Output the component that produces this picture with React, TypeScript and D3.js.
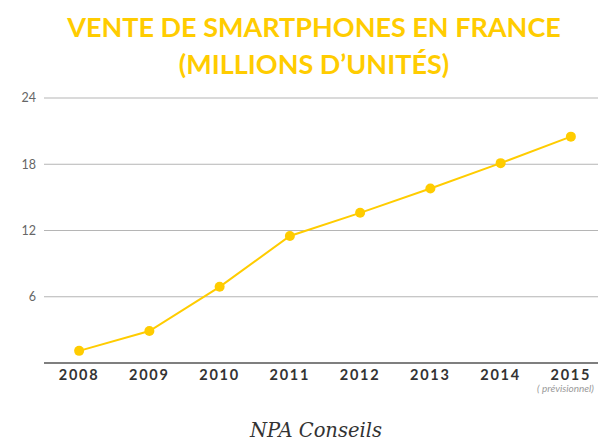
import React from 'react';
import * as d3 from 'd3';

const years = ['2008', '2009', '2010', '2011', '2012', '2013', '2014', '2015'];
const sales = [1.1, 2.9, 6.9, 11.5, 13.6, 15.8, 18.1, 20.5];
const yTicks = [6, 12, 18, 24];
const titleLines = ['VENTE DE SMARTPHONES EN FRANCE', '(MILLIONS D\u2019UNITÉS)'];

const width = 598;
const height = 442;
const yellow = '#ffcc00';

const App = () => {
  const x = d3.scalePoint<string>().domain(years).range([44, 606]).padding(0.5);
  const y = d3.scaleLinear().domain([0, 24]).range([363, 98]);

  const line = d3.line<number>()
    .x((d, i) => x(years[i]) as number)
    .y(d => y(d));

  return (
    <svg width={width} height={height}
      style={{ position: 'absolute', left: 0, top: 0, background: '#fff' }}>
      {titleLines.map((t, i) => (
        <text key={i} x={314} y={37 + i * 37} textAnchor="middle"
          fontFamily="'Lato', 'Noto Sans', sans-serif" fontWeight={700}
          fontSize={27} fill={yellow}>{t}</text>
      ))}

      {yTicks.map(t => (
        <g key={t}>
          <line x1={44} x2={598} y1={y(t)} y2={y(t)} stroke="#b5b5b5" strokeWidth={1} />
          <text x={36} y={y(t)} dy="0.35em" textAnchor="end"
            fontFamily="'Lato', sans-serif" fontSize={12.5} fill="#666">{t}</text>
        </g>
      ))}
      <line x1={44} x2={598} y1={y(0)} y2={y(0)} stroke="#555" strokeWidth={1.3} />

      {years.map(yr => (
        <text key={yr} x={x(yr)} y={380} textAnchor="middle"
          fontFamily="'Lato', sans-serif" fontWeight={700} fontSize={14.5}
          letterSpacing={1.8} fill="#333">{yr}</text>
      ))}
      <text x={537} y={392} fontFamily="'Lato', sans-serif" fontStyle="italic"
        fontSize={10} fill="#999">( prévisionnel)</text>

      <path d={line(sales) ?? ''} fill="none" stroke={yellow} strokeWidth={2} />
      {sales.map((v, i) => (
        <circle key={i} cx={x(years[i])} cy={y(v)} r={5} fill={yellow} />
      ))}

      <text x={316} y={437} textAnchor="middle"
        fontFamily="'DejaVu Serif', serif" fontStyle="italic" fontSize={19.5}
        fill="#333">NPA Conseils</text>
    </svg>
  );
};

export default App;
